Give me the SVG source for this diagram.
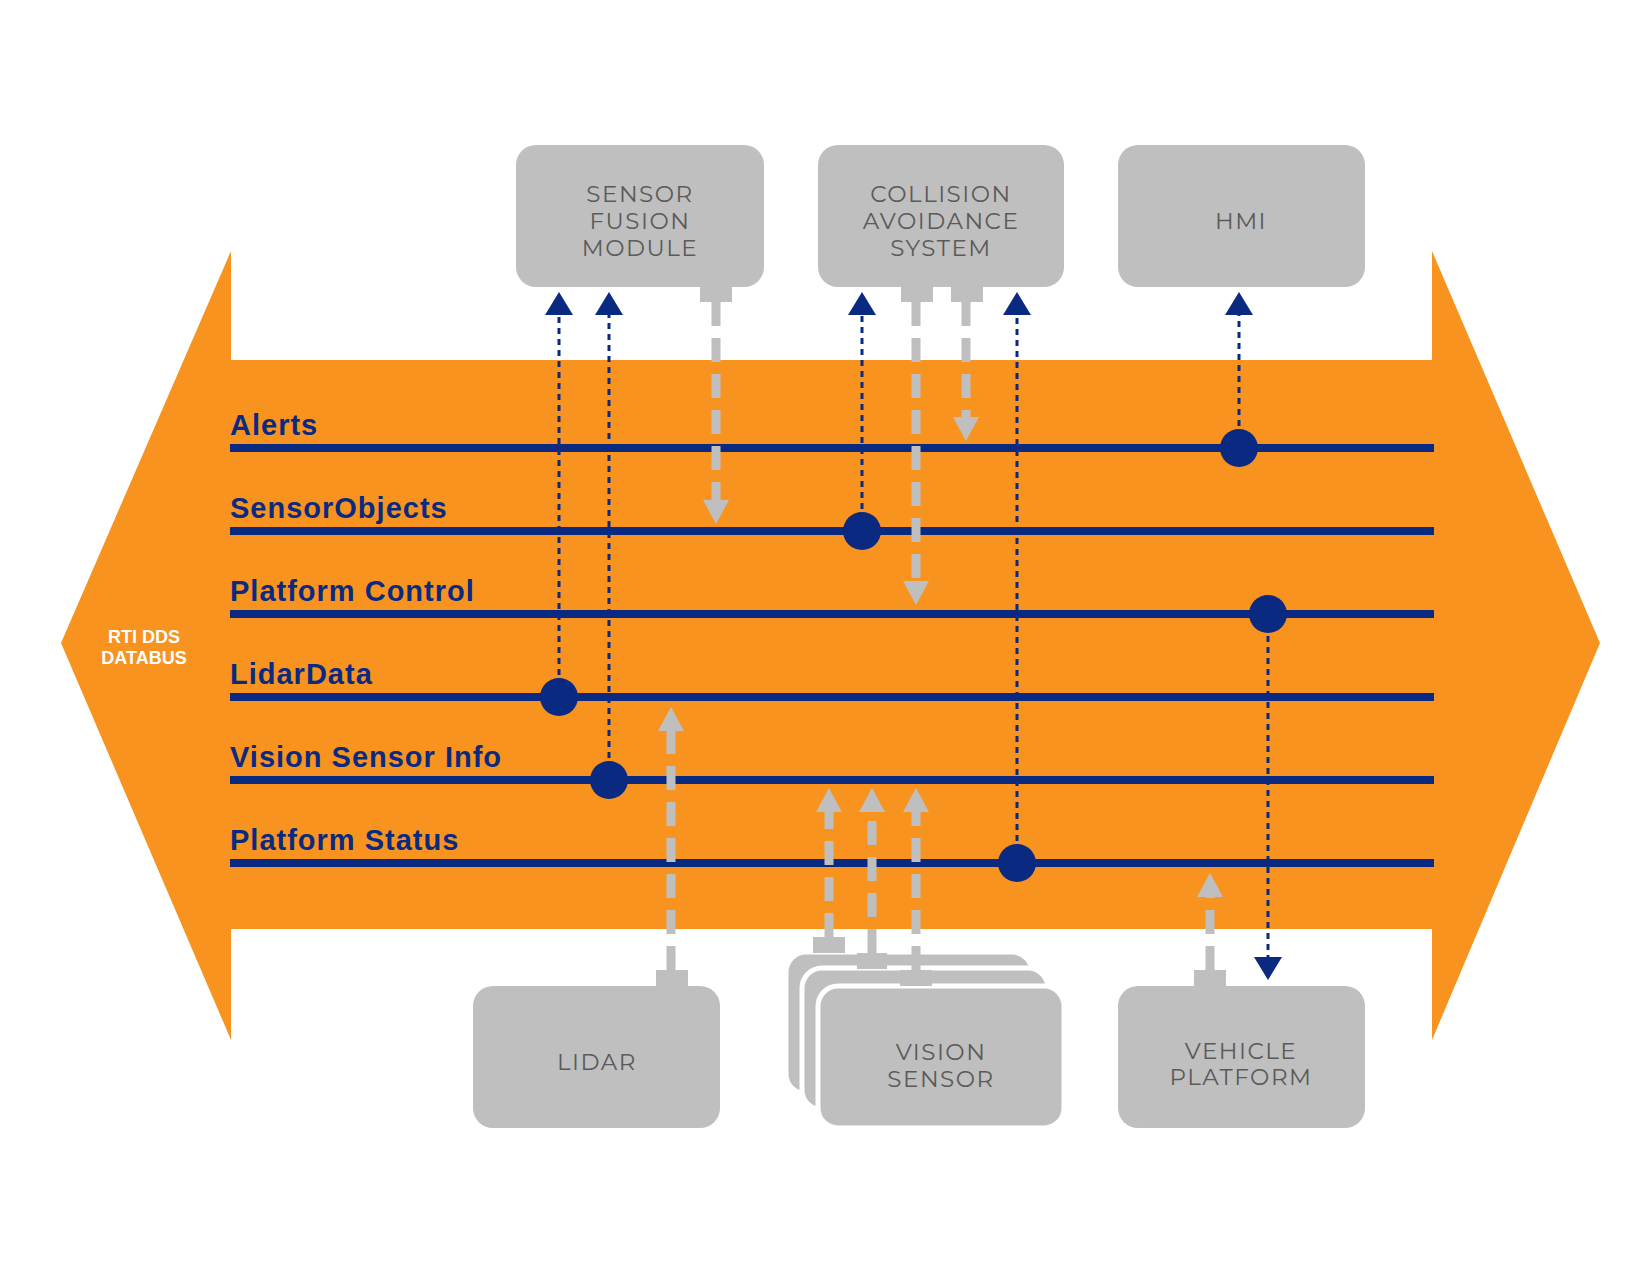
<svg xmlns="http://www.w3.org/2000/svg" width="1650" height="1275" viewBox="0 0 1650 1275">
<defs>
<style>
.box{fill:#bfbfbf}
.bt{font-family:"Montserrat","Liberation Sans",sans-serif;font-size:23px;fill:#5a5a5a;text-anchor:middle;letter-spacing:1.5px}
.topic{font-family:"Liberation Sans",sans-serif;font-weight:bold;font-size:29px;fill:#0a2a82;letter-spacing:1px}
.bus{stroke:#0a2a82;stroke-width:8}
.nav{stroke:#0a2a82;stroke-width:3;stroke-dasharray:6 5;fill:none}
.gr{stroke:#bfbfbf;stroke-width:9;stroke-dasharray:24 12;fill:none}
.dot{fill:#0a2a82}
.nt{fill:#0a2a82}
.gt{fill:#bfbfbf}
</style>
</defs>
<rect width="1650" height="1275" fill="#fff"/>
<polygon id="databus" points="61,643 231,251 231,360 1432,360 1432,251 1600,643 1432,1040 1432,929 231,929 231,1040" fill="#f7931e"/>
<text x="144" y="643" font-family="Liberation Sans,sans-serif" font-weight="bold" font-size="18" fill="#fff" text-anchor="middle">RTI DDS</text>
<text x="144" y="664" font-family="Liberation Sans,sans-serif" font-weight="bold" font-size="18" fill="#fff" text-anchor="middle">DATABUS</text>
<g id="topics">
<line class="bus" x1="230" y1="448" x2="1434" y2="448"/><text class="topic" x="230" y="435">Alerts</text>
<line class="bus" x1="230" y1="531" x2="1434" y2="531"/><text class="topic" x="230" y="518">SensorObjects</text>
<line class="bus" x1="230" y1="614" x2="1434" y2="614"/><text class="topic" x="230" y="601">Platform Control</text>
<line class="bus" x1="230" y1="697" x2="1434" y2="697"/><text class="topic" x="230" y="684">LidarData</text>
<line class="bus" x1="230" y1="780" x2="1434" y2="780"/><text class="topic" x="230" y="767">Vision Sensor Info</text>
<line class="bus" x1="230" y1="863" x2="1434" y2="863"/><text class="topic" x="230" y="850">Platform Status</text>
</g>
<g id="sfm"><rect class="box" x="516" y="145" width="248" height="142" rx="20"/><rect class="box" x="700" y="280" width="32" height="22"/>
<text class="bt" x="640" y="202">SENSOR</text><text class="bt" x="640" y="229">FUSION</text><text class="bt" x="640" y="256">MODULE</text></g>
<g id="cas"><rect class="box" x="818" y="145" width="246" height="142" rx="20"/><rect class="box" x="901" y="280" width="32" height="22"/><rect class="box" x="951" y="280" width="32" height="22"/>
<text class="bt" x="941" y="202">COLLISION</text><text class="bt" x="941" y="229">AVOIDANCE</text><text class="bt" x="941" y="256">SYSTEM</text></g>
<g id="hmi"><rect class="box" x="1118" y="145" width="247" height="142" rx="20"/><text class="bt" x="1241" y="229">HMI</text></g>
<g id="lidar"><rect class="box" x="473" y="986" width="247" height="142" rx="20"/><rect class="box" x="656" y="970" width="32" height="20"/><text class="bt" x="597" y="1070">LIDAR</text></g>
<g id="vision">
<rect class="box" x="786" y="952" width="246" height="142" rx="20" stroke="#fff" stroke-width="5"/>
<rect class="box" x="802" y="968" width="246" height="142" rx="20" stroke="#fff" stroke-width="5"/>
<rect class="box" x="818" y="986" width="246" height="142" rx="20" stroke="#fff" stroke-width="5"/>
<rect class="box" x="813" y="937" width="32" height="16"/><rect class="box" x="857" y="953" width="30" height="16"/><rect class="box" x="900" y="970" width="32" height="16"/>
<text class="bt" x="941" y="1060">VISION</text><text class="bt" x="941" y="1087">SENSOR</text></g>
<g id="vehicle"><rect class="box" x="1118" y="986" width="247" height="142" rx="20"/><rect class="box" x="1194" y="970" width="32" height="20"/>
<text class="bt" x="1241" y="1059">VEHICLE</text><text class="bt" x="1241" y="1085">PLATFORM</text></g>
<g id="connectors">
<line class="nav" x1="559" y1="697" x2="559" y2="312"/><polygon class="nt" points="545,315 573,315 559,292"/>
<line class="nav" x1="609" y1="780" x2="609" y2="312"/><polygon class="nt" points="595,315 623,315 609,292"/>
<line class="nav" x1="862" y1="531" x2="862" y2="312"/><polygon class="nt" points="848,315 876,315 862,292"/>
<line class="nav" x1="1017" y1="863" x2="1017" y2="312"/><polygon class="nt" points="1003,315 1031,315 1017,292"/>
<line class="nav" x1="1239" y1="448" x2="1239" y2="312"/><polygon class="nt" points="1225,315 1253,315 1239,292"/>
<line class="nav" x1="1268" y1="614" x2="1268" y2="960"/><polygon class="nt" points="1254,957 1282,957 1268,980"/>
<line class="gr" x1="716" y1="302" x2="716" y2="500"/><polygon class="gt" points="703,500 729,500 716,524"/>
<line class="gr" x1="916" y1="302" x2="916" y2="581"/><polygon class="gt" points="903,581 929,581 916,605"/>
<line class="gr" x1="966" y1="302" x2="966" y2="417"/><polygon class="gt" points="953,417 979,417 966,441"/>
<line class="gr" x1="671" y1="970" x2="671" y2="730"/><polygon class="gt" points="658,731 684,731 671,707"/>
<line class="gr" x1="829" y1="937" x2="829" y2="811"/><polygon class="gt" points="816,812 842,812 829,788"/>
<line class="gr" x1="872" y1="953" x2="872" y2="811"/><polygon class="gt" points="859,812 885,812 872,788"/>
<line class="gr" x1="916" y1="970" x2="916" y2="811"/><polygon class="gt" points="903,812 929,812 916,788"/>
<line class="gr" x1="1210" y1="970" x2="1210" y2="896"/><polygon class="gt" points="1197,897 1223,897 1210,873"/>
<circle class="dot" cx="1239" cy="448" r="19"/><circle class="dot" cx="862" cy="531" r="19"/><circle class="dot" cx="1268" cy="614" r="19"/>
<circle class="dot" cx="559" cy="697" r="19"/><circle class="dot" cx="609" cy="780" r="19"/><circle class="dot" cx="1017" cy="863" r="19"/>
</g>
</svg>
